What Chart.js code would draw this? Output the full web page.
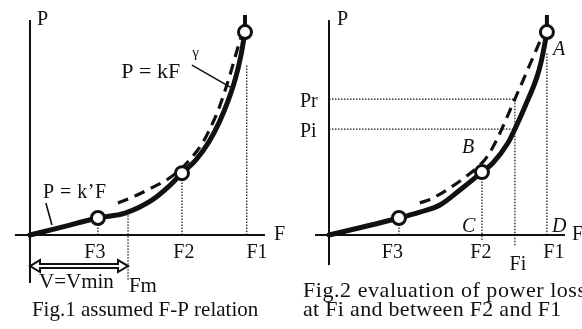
<!DOCTYPE html>
<html>
<head>
<meta charset="utf-8">
<script src="https://cdn.jsdelivr.net/npm/chart.js@4"></script>
<style>
  html, body { margin: 0; padding: 0; background: #fff; }
  #wrap { position: relative; width: 582px; height: 329px; overflow: hidden; }
  canvas { position: absolute; top: 0; }
  #fig1 { left: 0; }
  #fig2 { left: 291px; }
</style>
</head>
<body>
<div id="wrap">
  <canvas id="fig1" width="291" height="329"></canvas>
  <canvas id="fig2" width="291" height="329"></canvas>
</div>
<script>
// relative units: F1 = 10 on the F axis, P at F1 = 10

// Fig.1 assumed F-P relation
const fig1CurveF = [0, 1.3, 3.16, 4.42, 5.67, 6.42, 7.07, 7.7, 8.3, 8.8, 9.2, 9.55, 9.8, 10];
const fig1CurveP = [0, 0.34, 0.84, 1.08, 1.72, 2.36, 3.05, 3.68, 4.55, 5.55, 6.57, 7.69, 8.79, 10];
const fig1DashF = [4.09, 4.88, 5.72, 6.42, 7.07, 7.62, 8.06, 8.4, 8.76, 9.27, 9.7, 9.86];
const fig1DashP = [1.58, 1.92, 2.36, 2.76, 3.3, 3.94, 4.6, 5.3, 6.16, 7.78, 9.36, 9.9];
const fig1MarkF = [3.16, 7.07, 10];
const fig1MarkP = [0.84, 3.05, 10];
const fig1GuideTop = [0.84, 3.05, 8.4];
const fig1Ticks = ["F3", "F2", "F1"];
const fig1Fm = 4.56;

// Fig.2 evaluation of power loss
const fig2CurveF = [0, 3.21, 4.17, 5.09, 6.01, 7.02, 7.52, 8.21, 8.53, 9.0, 9.54, 9.75, 9.91, 10];
const fig2CurveP = [0, 0.84, 1.13, 1.48, 2.22, 3.1, 3.55, 4.53, 5.22, 6.35, 7.78, 8.6, 9.46, 10];
const fig2DashF = [4.17, 4.63, 5.18, 5.69, 6.25, 6.83, 7.25, 7.7, 8.53, 9.1, 9.7];
const fig2DashP = [1.58, 1.75, 2.07, 2.42, 2.85, 3.35, 3.85, 4.7, 6.7, 8.1, 9.6];
const fig2MarkF = [3.21, 7.02, 10];
const fig2MarkP = [0.84, 3.1, 10];
const fig2GuideTop = [0.84, 3.1, 8.97];
const fig2Ticks = ["F3", "F2", "F1"];
const fig2Fi = 8.53;
const fig2Pr = 6.7;
const fig2Pi = 5.22;

const INK = "#111";
const SERIF = '"Liberation Serif", "Times New Roman", serif';
const FONT = "20px " + SERIF;
const ITALIC = "italic 20px " + SERIF;

function pts(fs, ps) {
  return fs.map((f, i) => ({ x: f, y: ps[i] }));
}

function seg(x0, y0, x1, y1) {
  return [{ x: x0, y: y0 }, { x: x1, y: y1 }];
}

function lineSet(data, extra) {
  return Object.assign({
    data: data,
    borderColor: INK,
    borderWidth: 2,
    pointRadius: 0,
    tension: 0,
    fill: false
  }, extra);
}

function guide(data) {
  return lineSet(data, { borderWidth: 1.2, borderDash: [1.5, 1.5], order: 4 });
}

// texts, pointer lines and the double arrow
const sketch = {
  id: "sketch",
  afterDraw(chart, args, opts) {
    const ctx = chart.ctx;
    const sx = chart.scales.x, sy = chart.scales.y;
    const px = v => sx.getPixelForValue(v);
    const py = v => sy.getPixelForValue(v);
    ctx.save();
    ctx.fillStyle = INK;
    ctx.strokeStyle = INK;

    (opts.pointers || []).forEach(p => {
      ctx.lineWidth = 1.6;
      ctx.beginPath();
      ctx.moveTo(px(p[0]), py(p[1]));
      ctx.lineTo(px(p[2]), py(p[3]));
      ctx.stroke();
    });

    (opts.arrows || []).forEach(a => {
      const x0 = px(a.from), x1 = px(a.to), yc = py(a.at);
      const hl = 10, hw = 6, sw = 2;
      ctx.lineWidth = 2;
      ctx.lineJoin = "miter";
      ctx.beginPath();
      ctx.moveTo(x0, yc);
      ctx.lineTo(x0 + hl, yc - hw);
      ctx.lineTo(x0 + hl, yc - sw);
      ctx.lineTo(x1 - hl, yc - sw);
      ctx.lineTo(x1 - hl, yc - hw);
      ctx.lineTo(x1, yc);
      ctx.lineTo(x1 - hl, yc + hw);
      ctx.lineTo(x1 - hl, yc + sw);
      ctx.lineTo(x0 + hl, yc + sw);
      ctx.lineTo(x0 + hl, yc + hw);
      ctx.closePath();
      ctx.stroke();
    });

    ctx.textBaseline = "alphabetic";
    (opts.texts || []).forEach(t => {
      ctx.font = t.font || FONT;
      ctx.letterSpacing = t.spacing || "0px";
      ctx.textAlign = t.align || "left";
      ctx.fillText(t.text, px(t.f), py(t.p));
    });
    ctx.restore();
  }
};

function makeFig(id, cfg) {
  const datasets = [
    // open circles
    lineSet(pts(cfg.markF, cfg.markP), {
      showLine: false,
      pointRadius: 6.5,
      pointBorderWidth: 3,
      pointBackgroundColor: "#fff",
      pointBorderColor: INK,
      order: 0
    }),
    // short stub above F1
    lineSet(seg(cfg.markF[2], cfg.markP[2], cfg.markF[2], 10.84), { borderWidth: 4, order: 1 }),
    // solid relation
    lineSet(pts(cfg.curveF, cfg.curveP), {
      borderWidth: 5,
      cubicInterpolationMode: "monotone",
      borderCapStyle: "round",
      order: 2
    }),
    // dashed relation
    lineSet(pts(cfg.dashF, cfg.dashP), {
      borderWidth: 3.2,
      borderDash: [11, 7],
      cubicInterpolationMode: "monotone",
      order: 3
    }),
    // axes
    lineSet(seg(cfg.axisX[0], 0, cfg.axisX[1], 0), { order: 5 }),
    lineSet(seg(0, cfg.axisY[0], 0, cfg.axisY[1]), { order: 5 })
  ];
  cfg.markF.forEach((f, i) => datasets.push(guide(seg(cfg.guideX[i], cfg.guideBottom[i], cfg.guideX[i], cfg.guideTop[i]))));
  (cfg.extraGuides || []).forEach(g => datasets.push(guide(g)));

  return new Chart(document.getElementById(id), {
    type: "line",
    data: { datasets: datasets },
    options: {
      responsive: false,
      animation: false,
      events: [],
      layout: { padding: 0, autoPadding: false },
      scales: {
        x: { type: "linear", display: false, min: cfg.xRange[0], max: cfg.xRange[1] },
        y: { type: "linear", display: false, min: -4.63, max: 11.58 }
      },
      plugins: {
        legend: { display: false },
        tooltip: { enabled: false },
        sketch: cfg.sketch
      }
    },
    plugins: [sketch]
  });
}

makeFig("fig1", {
  xRange: [-1.395, 12.14],
  axisX: [-0.7, 10.93],
  axisY: [-2.36, 10.59],
  curveF: fig1CurveF, curveP: fig1CurveP,
  dashF: fig1DashF, dashP: fig1DashP,
  markF: fig1MarkF, markP: fig1MarkP,
  guideX: [fig1MarkF[0], fig1MarkF[1], 10.08],
  guideBottom: [0, 0, 0],
  guideTop: fig1GuideTop,
  extraGuides: [seg(fig1Fm, -2.2, fig1Fm, 1.1)],
  sketch: {
    pointers: [[7.53, 8.37, 9.4, 7.24], [0.74, 1.58, 1.02, 0.49]],
    arrows: [{ from: 0, to: fig1Fm, at: -1.53 }],
    texts: [
      { text: "P", f: 0.33, p: 10.34 },
      { text: "P = kF", f: 4.25, p: 7.73, font: "22px " + SERIF },
      { text: "γ", f: 7.55, p: 8.77, font: "15px " + SERIF },
      { text: "P = k’F", f: 0.6, p: 1.82, spacing: "0.5px" },
      { text: fig1Ticks[0], f: 3.02, p: -1.13, align: "center" },
      { text: fig1Ticks[1], f: 7.16, p: -1.13, align: "center" },
      { text: fig1Ticks[2], f: 10.56, p: -1.13, align: "center" },
      { text: "F", f: 11.35, p: -0.25 },
      { text: "V=Vmin", f: 0.42, p: -2.61, font: "21px " + SERIF },
      { text: "Fm", f: 4.6, p: -2.81, font: "21px " + SERIF },
      { text: "Fig.1 assumed F-P relation", f: 0.09, p: -3.99, font: "21px " + SERIF }
    ]
  }
});

makeFig("fig2", {
  xRange: [-1.743, 11.61],
  axisX: [-0.64, 10.83],
  axisY: [-1.48, 10.59],
  curveF: fig2CurveF, curveP: fig2CurveP,
  dashF: fig2DashF, dashP: fig2DashP,
  markF: fig2MarkF, markP: fig2MarkP,
  guideX: fig2MarkF,
  guideBottom: [0, -0.25, 0],
  guideTop: fig2GuideTop,
  extraGuides: [
    seg(fig2Fi, -0.5, fig2Fi, fig2Pr),
    seg(0, fig2Pr, fig2Fi, fig2Pr),
    seg(0, fig2Pi, fig2Fi, fig2Pi)
  ],
  sketch: {
    texts: [
      { text: "P", f: 0.37, p: 10.34 },
      { text: "Pr", f: -1.33, p: 6.31 },
      { text: "Pi", f: -1.33, p: 4.83 },
      { text: "A", f: 10.28, p: 8.87, font: ITALIC },
      { text: "B", f: 6.1, p: 4.04, font: ITALIC },
      { text: "C", f: 6.1, p: 0.15, font: ITALIC },
      { text: "D", f: 10.23, p: 0.15, font: ITALIC },
      { text: fig2Ticks[0], f: 2.91, p: -1.13, align: "center" },
      { text: fig2Ticks[1], f: 6.97, p: -1.13, align: "center" },
      { text: fig2Ticks[2], f: 10.32, p: -1.13, align: "center" },
      { text: "Fi", f: 8.67, p: -1.72, align: "center" },
      { text: "F", f: 11.15, p: -0.25 },
      { text: "Fig.2 evaluation of power loss", f: -1.19, p: -3.05, font: "22px " + SERIF, spacing: "0.55px" },
      { text: "at Fi and between F2 and F1", f: -1.19, p: -3.99, font: "22px " + SERIF, spacing: "0.3px" }
    ]
  }
});
</script>
</body>
</html>
